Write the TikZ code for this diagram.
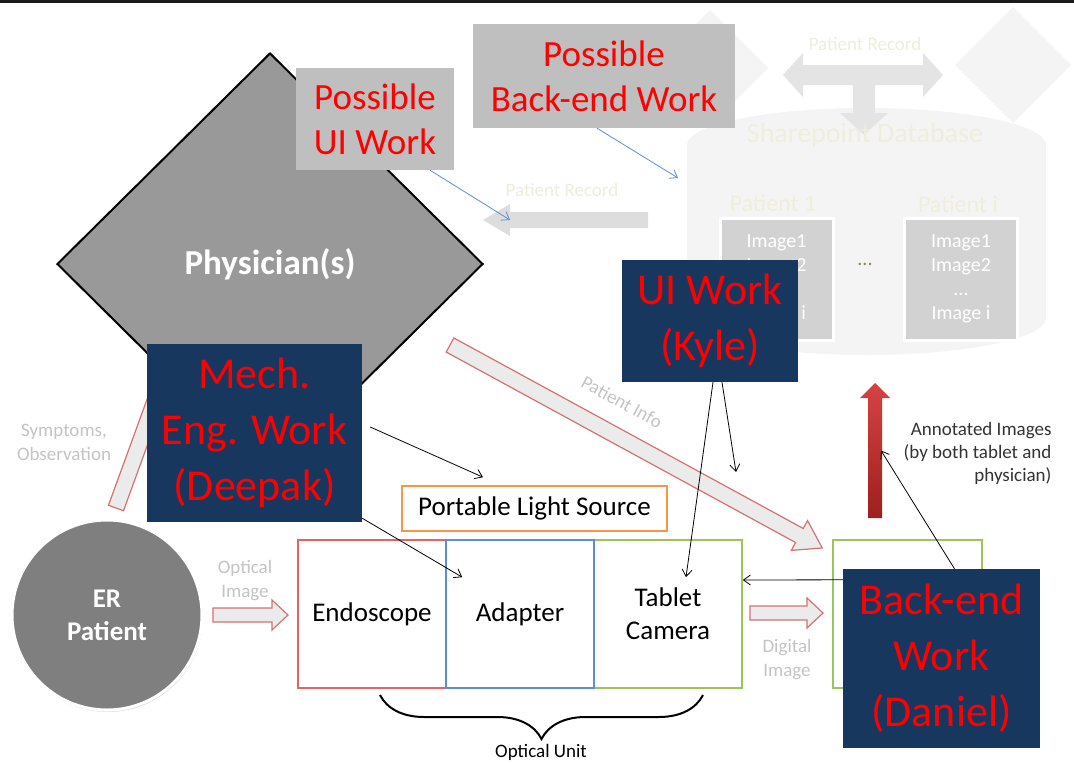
\documentclass[tikz,border=0pt]{standalone}
\usepackage{fontspec}
\setmainfont{Carlito}
\usetikzlibrary{shapes.geometric,arrows.meta,decorations.pathreplacing,calc,shadows}

\definecolor{navy}{HTML}{17375E}
\definecolor{possgray}{HTML}{BFBFBF}
\definecolor{physgray}{HTML}{999999}
\definecolor{patgray}{HTML}{7F7F7F}
\definecolor{labelgray}{HTML}{C4C4C4}
\definecolor{faintfill}{HTML}{F4F4F4}
\definecolor{faintarrow}{HTML}{E4E4E4}
\definecolor{fainttext}{HTML}{EFEEDD}
\definecolor{imgfill}{HTML}{D2D2D2}
\definecolor{endored}{HTML}{E06666}
\definecolor{adaptblue}{HTML}{5B8ED6}
\definecolor{camgreen}{HTML}{9BC55A}
\definecolor{lightorange}{HTML}{F79646}
\definecolor{arrowedge}{HTML}{D47272}
\definecolor{arrowfill}{HTML}{EBEBEB}
\definecolor{topbar}{HTML}{1A1A1A}
\definecolor{uptop}{HTML}{D64343}
\definecolor{upbottom}{HTML}{9E1F1F}

\tikzset{
  workbox/.style={fill=navy, text=red, align=center, inner sep=0pt, font=\fontsize{44}{56}\selectfont},
  possbox/.style={fill=possgray, text=red, align=center, inner sep=0pt, font=\fontsize{37}{45}\selectfont},
  unitbox/.style={draw, line width=1.6pt, fill=white, minimum width=148pt, minimum height=148pt, inner sep=0pt, align=center, font=\fontsize{27}{33}\selectfont},
  imgbox/.style={fill=imgfill, draw=white, line width=3pt, minimum width=113pt, minimum height=122pt, text=white, align=center, font=\fontsize{20}{24}\selectfont},
  flowlabel/.style={text=labelgray, align=center, font=\fontsize{19}{24}\selectfont},
  faintlabel/.style={text=fainttext, align=center},
  link/.style={-{Straight Barb[length=7pt,width=10pt]}, line width=0.8pt},
  bluelink/.style={link, draw=adaptblue},
  fatarrow/.style={fill=arrowfill, draw=arrowedge, line width=1.2pt},
}

% start, angle, length, shaft half width, head half width, head length, style
\newcommand{\hollowarrow}[7]{%
  \begin{scope}[shift={#1}, rotate=#2]
    \path[#7] (0,-#4) -- ({#3-#6},-#4) -- ({#3-#6},-#5) -- (#3,0) -- ({#3-#6},#5) -- ({#3-#6},#4) -- (0,#4) -- cycle;
  \end{scope}}

\begin{document}
\begin{tikzpicture}[x=1pt,y=-1pt]
\useasboundingbox (0,0) rectangle (1074,763);
\fill[white] (0,0) rectangle (1074,763);
\fill[topbar] (0,0) rectangle (1074,3);

% faded database part
\fill[faintfill] (710,10) -- (768,68) -- (710,126) -- (652,68) -- cycle;
\fill[faintfill] (1013,7) -- (1071,65) -- (1013,123) -- (955,65) -- cycle;
\fill[faintfill] (687,145) rectangle (1046,318);
\fill[faintfill] (866.5,145) ellipse (179.5 and 37);
\fill[faintfill] (866.5,318) ellipse (179.5 and 37);
\fill[faintarrow] (783,75) -- (803,53) -- (803,65) -- (923,65) -- (923,53) -- (943,75)
  -- (923,97) -- (923,85) -- (875,85) -- (875,113) -- (888,113) -- (864,135)
  -- (840,113) -- (853,113) -- (853,85) -- (803,85) -- (803,97) -- cycle;
\node[faintlabel, font=\fontsize{19}{24}\selectfont] (reclabel) at (865,44) {Patient Record};
\node[faintlabel, font=\fontsize{28}{34}\selectfont] (dblabel) at (865,135) {Sharepoint Database};
\node[faintlabel, font=\fontsize{24}{28}\selectfont] (p1label) at (773,203) {Patient 1};
\node[faintlabel, font=\fontsize{24}{28}\selectfont] (pilabel) at (958,204) {Patient i};
\node[imgbox] (pat1) at (776.5,279) {Image1\\Image2\\...\\Image i};
\node[imgbox] (pati) at (961,279) {Image1\\Image2\\...\\Image i};
\node[text=olive!60!gray, font=\fontsize{20}{24}\selectfont] (dots) at (865,264) {...};

% physician
\node[diamond, draw=black, line width=2pt, fill=physgray, minimum width=426pt, minimum height=422pt,
  inner sep=0pt, text=white, font=\bfseries\fontsize{35}{40}\selectfont] (phys) at (270,264) {Physician(s)};

% patient record to physician
\hollowarrow{(648,220)}{180}{165}{8}{16}{27}{fill=gray!27}
\coordinate (rectip) at (510,220);
\node[faintlabel, font=\fontsize{19}{24}\selectfont] (recleft) at (562,190) {Patient Record};

% possible work
\node[possbox, minimum width=158pt, minimum height=102pt] (possui) at (375,119) {Possible\\UI Work};
\node[possbox, minimum width=262pt, minimum height=104pt] (possbe) at (604,76) {Possible\\Back-end Work};
\coordinate (dbedge) at (678,178);
\draw[bluelink] ([xshift=55pt]possui.south) -- (rectip);
\draw[bluelink] ([xshift=-7pt]possbe.south) -- (dbedge);

% flow arrows
\hollowarrow{(116,508)}{70}{165}{8}{17}{20}{fatarrow}
\node[flowlabel] (symlabel) at (64,442) {Symptoms,\\Observation};
\hollowarrow{(450,345)}{-28.6}{424}{8}{17}{26}{fatarrow}
\node[text=labelgray, font=\fontsize{19}{24}\selectfont, rotate=-28.6] (infolabel) at (622,402) {Patient Info};

% ER patient
\node[circle, fill=patgray, draw=white, line width=3pt, minimum size=190pt, inner sep=0pt,
  drop shadow={opacity=0.25, shadow xshift=1pt, shadow yshift=-2pt},
  text=white, align=center, font=\bfseries\fontsize{27}{33}\selectfont] (erpat) at (107,615) {ER\\Patient};
\hollowarrow{(213,615)}{0}{75}{7}{15}{16}{fatarrow}
\node[flowlabel] (optlabel) at (245,581) {Optical\\Image};

% optical unit
\node[unitbox, draw=endored] (endo) at (372,614) {Endoscope};
\node[unitbox, draw=camgreen] (tabcam) at (668,614) {Tablet\\Camera};
\node[unitbox, draw=adaptblue] (adapt) at (520,614) {Adapter};
\node[draw=lightorange, line width=1.6pt, minimum width=265pt, minimum height=45pt, inner sep=0pt,
  font=\fontsize{27}{33}\selectfont] (light) at (534.5,508.5) {Portable Light Source};
\draw[decorate, decoration={brace, mirror, amplitude=44pt}, line width=2pt] (380,695) -- (703,695);
\node[font=\fontsize{19}{24}\selectfont] (unitlabel) at (541,752) {Optical Unit};

% display side
\hollowarrow{(750,613)}{0}{73}{7}{15}{16}{fatarrow}
\node[flowlabel] (diglabel) at (787,660) {Digital\\Image};
\node[draw=camgreen, line width=1.6pt, minimum width=149pt, minimum height=148pt, inner sep=0pt] (viewer) at (907.5,614) {};
\coordinate (upbase) at (875,518);
\coordinate (uptip) at (875,383);
\shade[top color=uptop, bottom color=upbottom] (868,518) -- (868,398) -- (860,398) -- (uptip)
  -- (890,398) -- (882,398) -- (882,518) -- cycle;
\node[anchor=north east, align=right, text=black!80, font=\fontsize{19}{23}\selectfont] (annot) at (1055,419)
  {Annotated Images\\(by both tablet and\\physician)};

% work boxes
\node[workbox, minimum width=176pt, minimum height=122pt] (uiwork) at (710,321) {UI Work\\(Kyle)};
\node[workbox, minimum width=215pt, minimum height=178pt] (mech) at (254.5,433) {Mech.\\Eng. Work\\(Deepak)};
\node[workbox, minimum width=197pt, minimum height=179pt] (backend) at (941.5,658.5) {Back-end\\Work\\(Daniel)};

% who works where
\coordinate (infopt) at (736,472);
\draw[link] ([xshift=8pt,yshift=6pt]mech.east) -- ([xshift=-51.5pt,yshift=8pt]light.north);
\draw[link] ([yshift=4pt]mech.south east) -- ([xshift=17pt,yshift=-38pt]adapt.north west);
\draw[link] ([xshift=3pt]uiwork.south) -- ([xshift=18pt,yshift=-38pt]tabcam.north);
\draw[link] ([xshift=12pt]uiwork.south) -- (infopt);
\draw[link] ([yshift=-11pt]backend.north west) -- ([yshift=34pt]tabcam.east);
\draw[link] ([xshift=13pt]backend.north) -- ($(upbase)!0.5!(uptip)+(6,0)$);
\end{tikzpicture}
\end{document}
